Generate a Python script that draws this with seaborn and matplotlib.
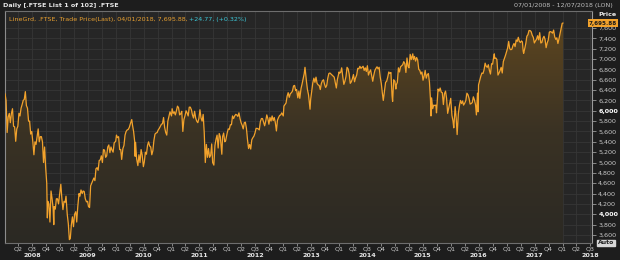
import numpy as np
import pandas as pd
import matplotlib
matplotlib.use("Agg")
import matplotlib.pyplot as plt
import matplotlib.dates as mdates
import matplotlib.transforms as mtrans
import seaborn as sns
from matplotlib.colors import LinearSegmentedColormap
from matplotlib.ticker import FuncFormatter

# ---------------- data (FTSE 100) ----------------
d08 = ["01-07","01-14","01-21","01-28","02-04","02-11","02-18","02-25","03-03","03-10",
       "03-17","03-24","03-31","04-07","04-14","04-21","04-28","05-05","05-12","05-19",
       "05-26","06-02","06-09","06-16","06-23","06-30","07-07","07-14","07-21","07-28",
       "08-04","08-11","08-18","08-25","09-01","09-08","09-15","09-22","09-29","10-06",
       "10-10","10-13","10-20","10-27","11-03","11-10","11-17","11-21","11-24","12-01",
       "12-08","12-15","12-22","12-31"]
p08 = [6330,6200,5580,5880,5950,5770,5950,6040,5700,5690,
       5410,5650,5700,5950,5900,6050,6120,6200,6220,6370,
       6100,6050,5800,5800,5550,5600,5400,5150,5400,5350,
       5500,5650,5400,5500,5500,5400,5000,5300,4900,4600,
       3930,4250,4200,3850,4450,4300,4100,3800,4150,4100,
       4300,4300,4200,4430]

d09 = ["01-06","01-13","01-20","01-27","02-03","02-09","02-17","02-24","03-03","03-09",
       "03-16","03-23","03-30","04-06","04-14","04-20","04-27","05-05","05-11","05-18",
       "05-26","06-01","06-08","06-15","06-23","06-30","07-06","07-13","07-20","07-27",
       "08-03","08-10","08-17","08-24","08-31","09-07","09-14","09-21","09-28","10-05",
       "10-12","10-19","10-26","11-02","11-09","11-16","11-23","11-30","12-07","12-14",
       "12-21","12-31"]
p09 = [4580,4300,4090,4250,4230,4350,4000,3820,3510,3530,
       3800,3950,3760,4000,4050,3850,4150,4400,4350,4470,
       4400,4450,4440,4300,4240,4250,4150,4130,4550,4600,
       4650,4700,4650,4880,4900,4850,5040,5050,5130,5000,
       5250,5240,5100,5130,5300,5340,5190,5300,5240,5200,
       5380,5410]

d10 = ["01-05","01-12","01-19","01-26","02-02","02-08","02-16","02-23","03-02","03-09",
       "03-16","03-23","03-30","04-06","04-15","04-20","04-27","05-04","05-07","05-10",
       "05-17","05-25","06-01","06-08","06-15","06-22","06-30","07-06","07-13","07-20",
       "07-27","08-03","08-10","08-17","08-24","08-31","09-07","09-14","09-21","09-28",
       "10-05","10-12","10-19","10-26","11-02","11-09","11-16","11-23","11-30","12-07",
       "12-14","12-21","12-31"]
p10 = [5530,5480,5500,5250,5250,5060,5270,5330,5530,5600,
       5630,5640,5680,5750,5830,5720,5600,5410,5120,5390,
       5070,4940,5150,5000,5250,5150,4920,5010,5200,5160,
       5330,5400,5320,5300,5150,5230,5430,5550,5570,5580,
       5630,5660,5700,5740,5750,5870,5680,5580,5530,5800,
       5890,5980,5900]

d11 = ["01-04","01-11","01-18","01-25","02-01","02-08","02-15","02-22","03-01","03-08",
       "03-15","03-22","03-29","04-05","04-12","04-19","04-26","05-03","05-10","05-17",
       "05-24","05-31","06-07","06-14","06-21","06-28","07-05","07-12","07-19","07-26",
       "08-02","08-09","08-16","08-23","08-30","09-06","09-13","09-20","09-26","10-04",
       "10-11","10-18","10-25","11-01","11-08","11-15","11-25","11-30","12-07","12-14",
       "12-20","12-30"]
p11 = [6040,5950,5980,5920,6000,6090,6060,5920,5940,5990,
       5600,5830,5900,6000,5960,5900,6070,6070,6020,5920,
       5860,5990,5860,5800,5770,5850,6020,5860,5800,5930,
       5580,5000,5350,5100,5270,5100,5140,5360,5000,4950,
       5330,5450,5530,5280,5560,5500,5160,5500,5570,5400,
       5420,5570]

d12 = ["01-06","01-13","01-20","01-27","02-03","02-10","02-17","02-24","03-02","03-09",
       "03-16","03-23","03-30","04-06","04-13","04-20","04-27","05-04","05-11","05-18",
       "05-25","06-01","06-08","06-15","06-22","06-29","07-06","07-13","07-20","07-27",
       "08-03","08-10","08-17","08-24","08-31","09-07","09-14","09-21","09-28","10-05",
       "10-12","10-19","10-26","11-02","11-09","11-16","11-23","11-30","12-07","12-14",
       "12-21","12-31"]
p12 = [5650,5640,5730,5730,5900,5850,5900,5930,5920,5890,
       5960,5850,5770,5720,5650,5770,5780,5660,5440,5270,
       5350,5260,5440,5480,5510,5570,5660,5660,5650,5630,
       5790,5850,5850,5780,5710,5800,5920,5850,5740,5870,
       5800,5900,5810,5870,5770,5610,5820,5870,5910,5920,
       5960,5900]

d13 = ["01-04","01-11","01-18","01-25","02-01","02-08","02-15","02-22","03-01","03-08",
       "03-15","03-22","03-28","04-05","04-12","04-18","04-26","05-03","05-10","05-17",
       "05-22","05-31","06-07","06-14","06-24","06-28","07-05","07-12","07-19","07-26",
       "08-02","08-09","08-16","08-23","08-30","09-06","09-13","09-20","09-27","10-04",
       "10-11","10-18","10-25","11-01","11-08","11-15","11-22","11-29","12-06","12-13",
       "12-20","12-31"]
p13 = [6090,6120,6150,6280,6350,6260,6330,6350,6380,6480,
       6490,6390,6410,6250,6380,6240,6430,6520,6620,6720,
       6840,6580,6410,6310,6030,6220,6380,6540,6630,6550,
       6650,6530,6500,6490,6410,6530,6580,6600,6510,6450,
       6490,6630,6720,6730,6710,6690,6670,6650,6550,6440,
       6610,6750]

d14 = ["01-03","01-10","01-17","01-24","01-31","02-07","02-14","02-21","02-28","03-07",
       "03-14","03-21","03-28","04-04","04-11","04-17","04-25","05-02","05-09","05-16",
       "05-23","05-30","06-06","06-13","06-20","06-27","07-04","07-11","07-18","07-25",
       "08-01","08-08","08-15","08-22","08-29","09-05","09-12","09-19","09-26","10-03",
       "10-10","10-16","10-24","10-31","11-07","11-14","11-21","11-28","12-05","12-12",
       "12-16","12-23","12-31"]
p14 = [6730,6740,6830,6660,6510,6570,6660,6840,6810,6710,
       6530,6560,6620,6700,6560,6630,6690,6820,6810,6860,
       6820,6840,6860,6780,6830,6760,6870,6690,6750,6790,
       6680,6570,6690,6780,6820,6850,6810,6840,6650,6530,
       6340,6200,6390,6550,6570,6650,6750,6720,6740,6300,
       6180,6600,6570]

d15 = ["01-06","01-09","01-16","01-23","01-30","02-06","02-13","02-20","02-27","03-06",
       "03-13","03-20","03-27","04-02","04-10","04-17","04-24","04-27","05-01","05-08",
       "05-15","05-22","05-29","06-05","06-12","06-19","06-26","07-03","07-10","07-17",
       "07-24","07-31","08-07","08-14","08-21","08-24","08-28","09-04","09-11","09-18",
       "09-25","09-29","10-09","10-16","10-23","10-30","11-06","11-13","11-20","11-27",
       "12-04","12-11","12-18","12-31"]
p15 = [6420,6500,6550,6830,6750,6850,6870,6890,6950,6910,
       6740,7020,6860,6830,7090,6990,7070,7100,6990,7050,
       6960,7030,6980,6800,6780,6710,6750,6590,6670,6780,
       6630,6700,6720,6550,6190,5900,6250,6040,6110,6100,
       6110,5960,6420,6380,6440,6360,6350,6120,6330,6380,
       6240,5950,6050,6240]

d16 = ["01-08","01-15","01-20","01-29","02-05","02-11","02-19","02-26","03-04","03-11",
       "03-18","03-24","04-01","04-08","04-15","04-22","04-29","05-06","05-13","05-20",
       "05-27","06-03","06-10","06-16","06-23","06-27","06-30","07-08","07-15","07-22",
       "07-29","08-05","08-12","08-19","08-26","09-02","09-09","09-16","09-23","09-30",
       "10-07","10-11","10-14","10-21","10-28","11-04","11-11","11-18","11-25","12-02",
       "12-09","12-16","12-23","12-30"]
p16 = [5910,5800,5670,6080,5850,5540,5950,6100,6200,6140,
       6190,6110,6150,6200,6340,6310,6240,6130,6140,6160,
       6270,6210,6120,5920,6340,5980,6500,6590,6670,6730,
       6720,6790,6920,6860,6840,6890,6780,6710,6910,6900,
       7040,7100,7010,7020,6990,6690,6730,6780,6840,6730,
       6950,7010,7070,7140]

d17 = ["01-06","01-13","01-20","01-27","02-03","02-10","02-17","02-24","03-03","03-10",
       "03-17","03-24","03-31","04-07","04-13","04-18","04-21","04-28","05-05","05-12",
       "05-19","05-26","06-02","06-09","06-16","06-23","06-30","07-07","07-14","07-21",
       "07-28","08-04","08-11","08-18","08-25","09-01","09-08","09-15","09-22","09-29",
       "10-06","10-13","10-20","10-27","11-03","11-10","11-17","11-24","12-01","12-08",
       "12-15","12-22","12-29"]
p17 = [7210,7340,7200,7180,7190,7260,7300,7240,7370,7340,
       7420,7340,7320,7350,7330,7150,7110,7200,7300,7440,
       7470,7550,7550,7530,7460,7420,7310,7350,7380,7450,
       7370,7510,7310,7320,7400,7440,7380,7220,7310,7370,
       7520,7530,7520,7500,7560,7430,7380,7410,7300,7390,
       7490,7600,7690]

d18 = ["01-04"]
p18 = [7695.88]

year_blocks = [(2008, d08, p08), (2009, d09, p09), (2010, d10, p10), (2011, d11, p11),
               (2012, d12, p12), (2013, d13, p13), (2014, d14, p14), (2015, d15, p15),
               (2016, d16, p16), (2017, d17, p17), (2018, d18, p18)]

price_ticks = list(range(3600, 7601, 200))
quarter_labels = ["Q1", "Q2", "Q3", "Q4"]
year_labels = [str(y) for y in range(2008, 2019)]
last_price = "7,695.88"

dates, prices = [], []
for yr, dd, pp in year_blocks:
    assert len(dd) == len(pp), (yr, len(dd), len(pp))
    dates += [f"{yr}-{d}" for d in dd]
    prices += pp
df = pd.DataFrame({"date": pd.to_datetime(dates), "price": prices})

# ---------------- style ----------------
sns.set_theme(style="dark")
plt.rcParams['font.family'] = ['DejaVu Sans']

BG = '#1d1d1d'
PLOT_BG = '#262626'
GRID = '#363636'
LINE = '#f2a22c'
TXT = '#c9c9c9'

W, H = 620, 260
fig = plt.figure(figsize=(6.2, 2.6), dpi=100, facecolor=BG)
ax = fig.add_axes([5 / W, 17 / H, 587 / W, 232 / H])
ax.set_facecolor(PLOT_BG)

ymin, ymax = 3445, 7928
xmin, xmax = pd.Timestamp("2008-01-07"), pd.Timestamp("2018-07-12")

# gradient fill under the line
poly = ax.fill_between(df["date"], df["price"], ymin, color='none', lw=0, zorder=1)
grad = np.linspace(0, 1, 256).reshape(-1, 1)
cmap = LinearSegmentedColormap.from_list("g", ["#2b2923", "#3a3224", "#5e461f"])
x0, x1 = mdates.date2num(xmin), mdates.date2num(xmax)
im = ax.imshow(grad, extent=[x0, x1, ymin, 7750], origin='lower', aspect='auto',
               cmap=cmap, zorder=1, interpolation='bilinear')
im.set_clip_path(poly.get_paths()[0], transform=ax.transData)

sns.lineplot(data=df, x="date", y="price", color=LINE, lw=0.9, ax=ax, zorder=3)

ax.set_xlim(xmin, xmax)
ax.set_ylim(ymin, ymax)
ax.set_xlabel("")
ax.set_ylabel("")

# y axis on the right
ax.yaxis.tick_right()
ax.set_yticks(price_ticks)
ax.yaxis.set_major_formatter(FuncFormatter(lambda v, p: f"{int(v):,}"))
ax.tick_params(axis='y', which='major', direction='out', length=3, width=0.6,
               color='#9a9a9a', labelsize=4.6, labelcolor=TXT, pad=1.5, right=True, left=False)
for lbl in ax.get_yticklabels():
    if lbl.get_text() in ("4,000", "6,000"):
        lbl.set_color('white')
        lbl.set_fontweight('bold')

# x axis: quarters
qdates = pd.date_range("2008-04-01", "2018-07-01", freq="QS")
ax.set_xticks(qdates)
ax.set_xticklabels([quarter_labels[(d.month - 1) // 3] for d in qdates])
ax.tick_params(axis='x', which='major', direction='out', length=2, width=0.6,
               color='#9a9a9a', labelsize=4.6, labelcolor=TXT, pad=0.6, bottom=True)
# year separators
ydates = pd.date_range("2009-01-01", "2018-01-01", freq="YS")
ax.set_xticks(ydates, minor=True)
ax.tick_params(axis='x', which='minor', direction='out', length=12, width=0.6,
               color='#6a6a6a', bottom=True)
# year labels
for y in year_labels:
    ax.text(pd.Timestamp(f"{y}-07-01"), -0.054, y, transform=ax.get_xaxis_transform(),
            ha='center', va='center', fontsize=4.6, color='#e8e8e8', fontweight='bold')

ax.grid(True, which='major', color=GRID, lw=0.6)
ax.grid(True, which='minor', axis='x', color='#3c3c3c', lw=0.7)
ax.set_axisbelow(True)

for side in ax.spines:
    ax.spines[side].set_visible(True)
ax.spines['left'].set_color('#8c8c8c')
ax.spines['top'].set_color('#6e6e6e')
ax.spines['right'].set_color('#9a9a9a')
ax.spines['bottom'].set_color('#6e6e6e')
for s in ax.spines.values():
    s.set_linewidth(0.8)

# last price marker on the axis
trans = mtrans.blended_transform_factory(fig.transFigure, ax.transData)
fig.text(617 / W, df["price"].iloc[-1], last_price, transform=trans,
         ha='right', va='center', fontsize=4.1, color='#1a1a1a', fontweight='bold',
         bbox=dict(boxstyle='square,pad=0.18', fc='#f2a22c', ec='none'), zorder=10)

# header / annotations
fig.text(3 / W, 1 - 5.5 / H, "Daily [.FTSE List 1 of 102] .FTSE", fontsize=4.6,
         color='#e6e6e6', fontweight='bold', ha='left', va='center')
fig.text(613 / W, 1 - 5.5 / H, "07/01/2008 - 12/07/2018 (LON)", fontsize=4.6,
         color='#bdbdbd', ha='right', va='center')
fig.text(598 / W, 1 - 14 / H, "Price", fontsize=4.6, color='#e6e6e6',
         fontweight='bold', ha='left', va='center')
t1 = ax.text(0.006, 0.975, "LineGrd, .FTSE, Trade Price(Last), 04/01/2018, 7,695.88, ",
             transform=ax.transAxes, fontsize=4.6, color='#e8a030', ha='left', va='top')
fig.canvas.draw()
bb = t1.get_window_extent().transformed(ax.transAxes.inverted())
ax.text(bb.x1, 0.975, "+24.77, (+0.32%)", transform=ax.transAxes, fontsize=4.6,
        color='#3cc8d8', ha='left', va='top')

# "Auto" box bottom right
fig.text(598 / W, 1 - 243 / H, "Auto", fontsize=4.4, color='#222222', fontweight='bold',
         ha='left', va='center',
         bbox=dict(boxstyle='square,pad=0.15', fc='#d8d8d8', ec='#d8d8d8'))

fig.savefig("out.png", dpi=100, facecolor=BG)
